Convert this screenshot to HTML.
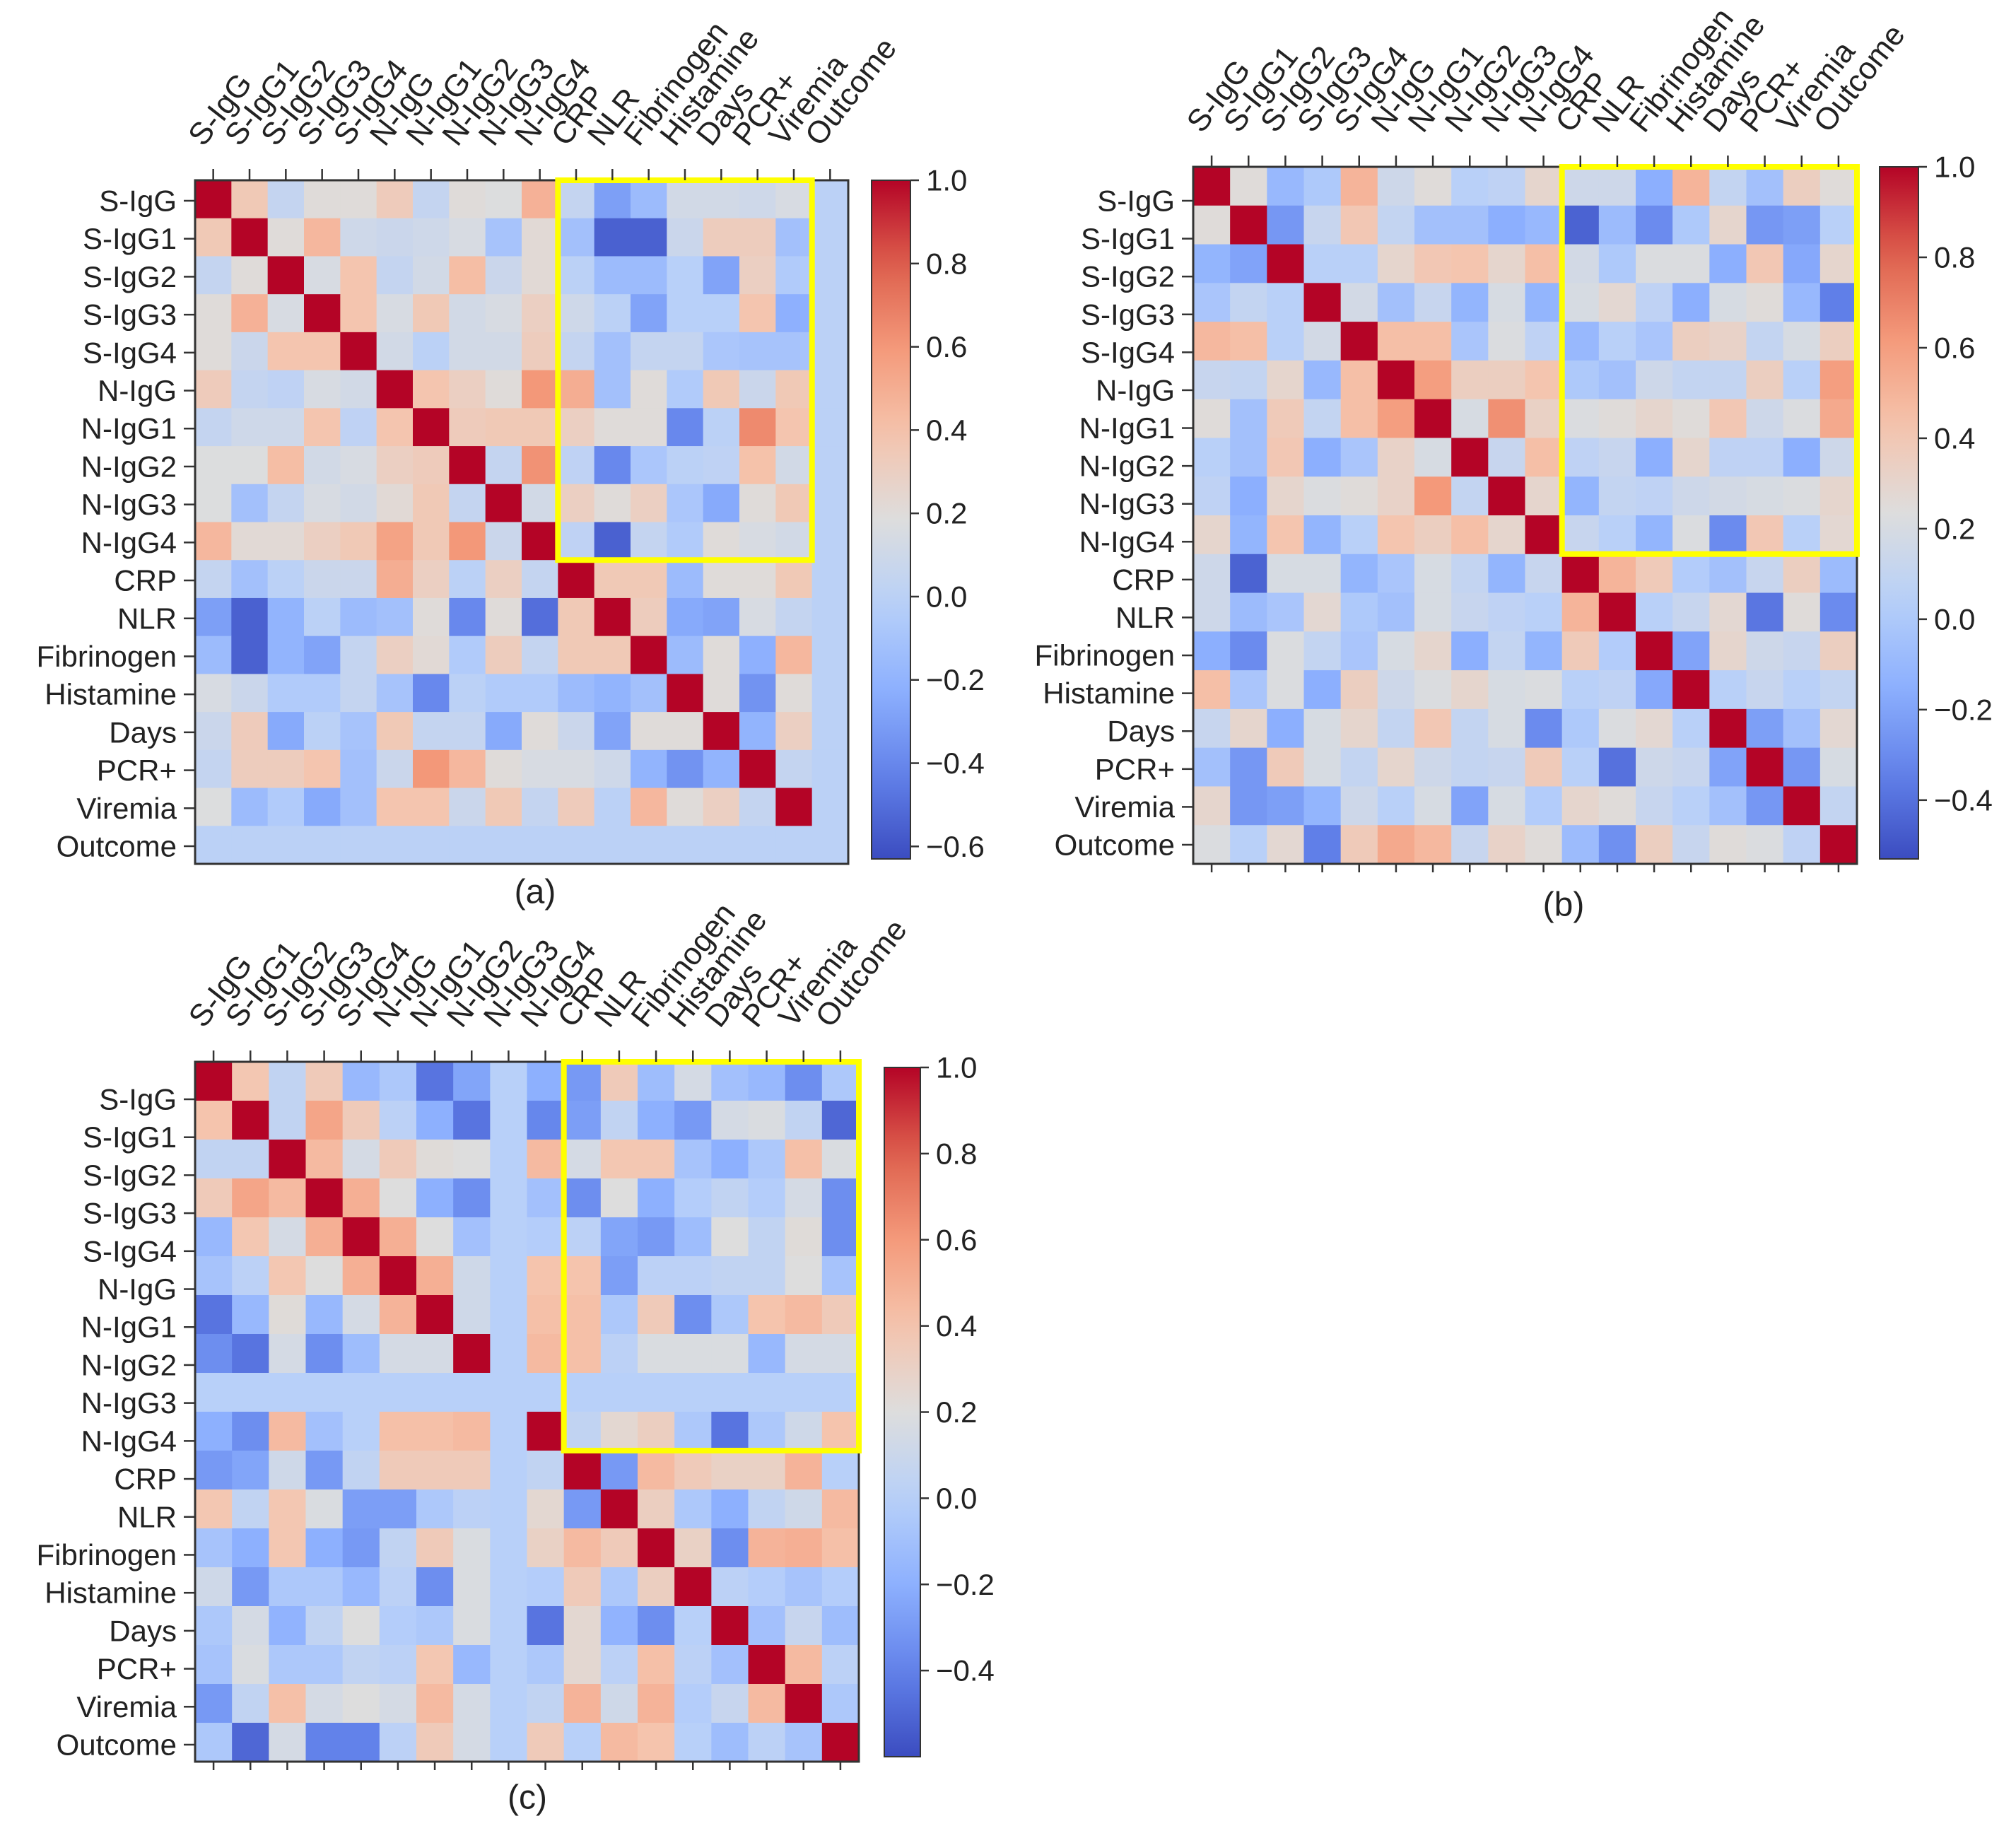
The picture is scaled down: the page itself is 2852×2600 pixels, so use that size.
<!DOCTYPE html>
<html>
<head>
<meta charset="utf-8">
<style>
  html, body { margin: 0; padding: 0; background: #ffffff; }
  svg { display: block; }
  text { font-family: "Liberation Sans", "DejaVu Sans", sans-serif; fill: #222; }
</style>
</head>
<body>
<svg id="fig" xmlns="http://www.w3.org/2000/svg" width="2852" height="2600" viewBox="0 0 2852 2600">
  <rect x="0" y="0" width="2852" height="2600" fill="#ffffff"></rect>
</svg>
<script>
// ---------- data ----------
const variables = ["S-IgG","S-IgG1","S-IgG2","S-IgG3","S-IgG4","N-IgG","N-IgG1","N-IgG2","N-IgG3","N-IgG4","CRP","NLR","Fibrinogen","Histamine","Days","PCR+","Viremia","Outcome"];

const matA = [
 [1,0.35,0.05,0.2,0.2,0.33,0.05,0.2,0.18,0.48,0.05,-0.3,-0.15,0.12,0.12,0.1,0.15,0],
 [0.35,1,0.2,0.45,0.1,0.08,0.1,0.15,-0.1,0.22,-0.12,-0.55,-0.55,0.08,0.32,0.32,-0.12,0],
 [0.05,0.2,1,0.15,0.38,0.05,0.12,0.42,0.08,0.22,0,-0.15,-0.15,-0.02,-0.28,0.3,-0.05,0],
 [0.2,0.48,0.15,1,0.38,0.15,0.35,0.12,0.15,0.3,0.1,0,-0.28,-0.02,-0.02,0.38,-0.22,0],
 [0.2,0.08,0.38,0.38,1,0.12,0,0.12,0.12,0.32,0.05,-0.12,0.05,0.05,-0.08,-0.1,-0.1,0],
 [0.33,0.05,0.02,0.15,0.12,1,0.38,0.3,0.2,0.6,0.5,-0.12,0.2,-0.05,0.35,0.08,0.35,0],
 [0.05,0.1,0.1,0.38,0.02,0.38,1,0.33,0.35,0.35,0.3,0.2,0.2,-0.4,0,0.65,0.38,0],
 [0.18,0.18,0.42,0.12,0.15,0.3,0.33,1,0.05,0.62,0.02,-0.4,-0.08,0,0.02,0.4,0.12,0],
 [0.18,-0.12,0.05,0.15,0.12,0.22,0.35,0.05,1,0.12,0.3,0.2,0.3,-0.08,-0.25,0.2,0.35,0],
 [0.45,0.22,0.22,0.3,0.35,0.55,0.35,0.6,0.08,1,0.02,-0.55,0.05,-0.05,0.2,0.15,0.12,0],
 [0.05,-0.12,0,0.08,0.08,0.5,0.3,0,0.3,0.05,1,0.35,0.35,-0.15,0.2,0.2,0.35,0],
 [-0.3,-0.55,-0.2,0,-0.15,-0.12,0.2,-0.4,0.2,-0.5,0.35,1,0.32,-0.25,-0.28,0.15,0.05,0],
 [-0.15,-0.55,-0.2,-0.28,0.05,0.3,0.22,-0.05,0.32,0.05,0.35,0.35,1,-0.15,0.2,-0.22,0.45,0],
 [0.15,0.08,-0.05,-0.05,0.05,-0.1,-0.4,0,-0.05,-0.05,-0.15,-0.2,-0.12,1,0.2,-0.35,0.2,0],
 [0.08,0.33,-0.25,0,-0.1,0.35,0.05,0.05,-0.25,0.2,0.08,-0.28,0.2,0.2,1,-0.2,0.3,0],
 [0.05,0.32,0.32,0.38,-0.12,0.08,0.6,0.45,0.2,0.15,0.15,0.1,-0.2,-0.35,-0.2,1,0.05,0],
 [0.18,-0.15,-0.05,-0.25,-0.12,0.38,0.38,0.08,0.35,0.05,0.33,0,0.45,0.2,0.3,0.05,1,0],
 [0,0,0,0,0,0,0,0,0,0,0,0,0,0,0,0,0,0]
];

const matB = [
 [1,0.25,-0.1,0,0.5,0.15,0.25,0.05,0.08,0.3,0.15,0.15,-0.15,0.5,0.1,-0.05,0.35,0.25],
 [0.25,1,-0.25,0.12,0.4,0.1,-0.05,-0.05,-0.15,-0.1,-0.45,-0.08,-0.3,0,0.3,-0.25,-0.22,0.05],
 [-0.12,-0.2,1,0.05,0.05,0.3,0.4,0.42,0.3,0.45,0.18,0,0.22,0.22,-0.15,0.4,-0.18,0.3],
 [-0.02,0.1,0.05,1,0.18,-0.05,0.12,-0.12,0.2,-0.12,0.2,0.28,0.08,-0.15,0.2,0.25,-0.1,-0.35],
 [0.48,0.45,0.05,0.18,1,0.45,0.45,-0.02,0.22,0.08,-0.1,0.05,-0.02,0.35,0.32,0.1,0.2,0.35],
 [0.12,0.1,0.3,-0.1,0.45,1,0.6,0.35,0.35,0.42,0,-0.05,0.15,0.1,0.1,0.35,0.05,0.6],
 [0.25,-0.05,0.38,0.1,0.45,0.6,1,0.2,0.65,0.33,0.22,0.25,0.3,0.25,0.4,0.15,0.22,0.55],
 [0.05,-0.05,0.4,-0.15,-0.02,0.32,0.2,1,0.12,0.45,0.08,0.12,-0.15,0.3,0.08,0.08,-0.15,0.15],
 [0.08,-0.15,0.3,0.22,0.25,0.32,0.62,0.1,1,0.3,-0.12,0.1,0.08,0.15,0.18,0.2,0.22,0.3],
 [0.3,-0.12,0.42,-0.12,0.05,0.42,0.35,0.45,0.3,1,0.12,0.05,-0.12,0.22,-0.3,0.4,0.05,0.28],
 [0.15,-0.45,0.2,0.2,-0.12,-0.02,0.2,0.1,-0.12,0.12,1,0.5,0.38,0.02,-0.05,0.12,0.35,-0.08],
 [0.15,-0.08,-0.02,0.28,0,-0.05,0.2,0.12,0.08,0.05,0.5,1,0.05,0.12,0.28,-0.38,0.25,-0.3],
 [-0.15,-0.3,0.22,0.1,-0.02,0.2,0.3,-0.15,0.1,-0.12,0.38,0.02,1,-0.2,0.3,0.15,0.12,0.35],
 [0.45,-0.02,0.22,-0.15,0.35,0.15,0.22,0.3,0.2,0.22,0.05,0.08,-0.18,1,0.05,0.12,0.05,0.1],
 [0.12,0.3,-0.15,0.2,0.3,0.1,0.4,0.1,0.2,-0.3,0,0.22,0.28,0.05,1,-0.22,-0.05,0.28],
 [-0.05,-0.25,0.38,0.2,0.1,0.3,0.15,0.1,0.12,0.38,0.05,-0.4,0.15,0.12,-0.2,1,-0.25,0.2],
 [0.3,-0.25,-0.22,-0.12,0.15,0.05,0.2,-0.2,0.2,0.02,0.3,0.25,0.12,0.05,-0.05,-0.25,1,0.1],
 [0.22,0.05,0.28,-0.35,0.38,0.55,0.48,0.12,0.32,0.25,-0.08,-0.28,0.35,0.12,0.25,0.22,0.08,1]
];

const matC = [
 [1,0.38,0.05,0.35,-0.15,-0.05,-0.45,-0.25,0,-0.2,-0.3,0.35,-0.12,0.15,-0.1,-0.15,-0.35,-0.05],
 [0.4,1,0.05,0.55,0.35,0.02,-0.2,-0.45,0,-0.38,-0.28,0.05,-0.2,-0.3,0.15,0.18,0.05,-0.5],
 [0.05,0.05,1,0.45,0.15,0.35,0.22,0.2,0,0.45,0.15,0.38,0.38,-0.08,-0.2,-0.05,0.42,0.18],
 [0.35,0.55,0.45,1,0.5,0.2,-0.2,-0.35,0,-0.1,-0.35,0.2,-0.2,-0.02,0.05,-0.02,0.15,-0.35],
 [-0.15,0.38,0.15,0.5,1,0.5,0.2,-0.1,0,-0.02,0.02,-0.25,-0.3,-0.12,0.2,0.05,0.22,-0.35],
 [-0.08,0.02,0.38,0.2,0.5,1,0.5,0.12,0,0.4,0.4,-0.28,0.02,0.02,0.05,0.05,0.2,-0.08],
 [-0.45,-0.15,0.22,-0.15,0.15,0.48,1,0.12,0,0.42,0.42,-0.05,0.35,-0.35,-0.05,0.4,0.45,0.35],
 [-0.35,-0.45,0.15,-0.35,-0.12,0.15,0.15,1,0,0.45,0.42,0.02,0.18,0.18,0.18,-0.15,0.15,0.15],
 [0,0,0,0,0,0,0,0,0,0,0,0,0,0,0,0,0,0],
 [-0.2,-0.35,0.45,-0.1,0,0.42,0.42,0.45,0,1,0.05,0.25,0.32,-0.05,-0.45,-0.05,0.12,0.4],
 [-0.3,-0.25,0.12,-0.3,0.05,0.35,0.35,0.35,0,0.05,1,-0.3,0.45,0.35,0.3,0.3,0.48,0],
 [0.38,0.05,0.38,0.18,-0.28,-0.28,-0.05,0.02,0,0.25,-0.3,1,0.32,-0.05,-0.2,0.05,0.12,0.45],
 [-0.08,-0.2,0.38,-0.2,-0.3,0.05,0.35,0.18,0,0.3,0.45,0.35,1,0.3,-0.35,0.48,0.5,0.42],
 [0.12,-0.3,-0.05,-0.05,-0.15,0.02,-0.35,0.18,0,-0.02,0.35,-0.05,0.32,1,0.02,-0.02,-0.08,-0.02],
 [-0.05,0.15,-0.18,0.05,0.2,-0.02,-0.05,0.18,0,-0.45,0.25,-0.18,-0.35,0,1,-0.1,0.08,-0.12],
 [-0.08,0.18,-0.05,-0.05,0.05,0.02,0.38,-0.15,0,-0.05,0.25,0.02,0.42,0.02,-0.1,1,0.45,0.02],
 [-0.3,0.05,0.42,0.15,0.2,0.15,0.45,0.15,0,0.05,0.48,0.12,0.48,-0.02,0.08,0.45,1,-0.05],
 [-0.05,-0.5,0.15,-0.4,-0.4,0.02,0.35,0.15,0,0.35,0,0.45,0.4,0,-0.12,0.02,-0.08,1]
];

const rangeA = [-0.63, 1.0];
const rangeB = [-0.53, 1.0];
const rangeC = [-0.60, 1.0];
const cbTicksA = [1.0, 0.8, 0.6, 0.4, 0.2, 0.0, -0.2, -0.4, -0.6];
const cbTicksB = [1.0, 0.8, 0.6, 0.4, 0.2, 0.0, -0.2, -0.4];
const cbTicksC = [1.0, 0.8, 0.6, 0.4, 0.2, 0.0, -0.2, -0.4];
const highlightRows = [0, 9];
const highlightColsA = [10, 16];
const highlightColsBC = [10, 17];

// ---------- colormap (coolwarm) ----------
const CM = [[59,76,192],[98,130,234],[141,176,254],[184,208,249],[221,221,221],[245,196,173],[244,154,123],[222,96,77],[180,4,38]];
function cmap(t){
  t = Math.max(0, Math.min(1, t));
  const p = t*(CM.length-1), i = Math.min(CM.length-2, Math.floor(p)), f = p-i;
  const c = CM[i].map((v,k)=>Math.round(v+(CM[i+1][k]-v)*f));
  return "rgb("+c.join(",")+")";
}

const NS = "http://www.w3.org/2000/svg";
const svg = document.getElementById("fig");
function mk(tag, attrs, parent){
  const e = document.createElementNS(NS, tag);
  for (const k in attrs) e.setAttribute(k, attrs[k]);
  (parent||svg).appendChild(e);
  return e;
}
function fmt(v){ return (v < 0 ? "\u2212" : "") + Math.abs(v).toFixed(1); }

let gradId = 0;
function panel(p){
  const g = mk("g", {});
  
  
  const n = variables.length;
  const cw = (p.x1 - p.x0)/n, ch = (p.y1 - p.y0)/n;
  const xS = j => p.x0 + j*cw;
  const yS = i => p.y0 + i*ch;
  const cS = v => (v - p.range[0])/(p.range[1]-p.range[0]);
  for (let i=0;i<n;i++){
    for (let j=0;j<n;j++){
      const r = mk("rect", {x:xS(j), y:yS(i), width:cw+0.6, height:ch+0.6, fill:cmap(cS(p.mat[i][j]))}, g);
      
      
    }
  }
  const fr = mk("rect", {x:p.x0, y:p.y0, width:p.x1-p.x0, height:p.y1-p.y0, fill:"none", stroke:"#333", "stroke-width":3}, g);
  
  
  const hb = mk("rect", {x:xS(p.hc[0]), y:yS(highlightRows[0]), width:xS(p.hc[1]+1)-xS(p.hc[0]), height:yS(highlightRows[1]+1)-yS(highlightRows[0]), fill:"none", stroke:"#ffff00", "stroke-width":8}, g);
  
  
  for (let i=0;i<n;i++){
    const yy = p.ly0 + (p.ly1 - p.ly0)*i/(n-1);
    mk("line", {x1:p.x0-16, x2:p.x0, y1:yy, y2:yy, stroke:"#333", "stroke-width":2.5}, g);
    const t = mk("text", {x:p.x0-26, y:yy, "text-anchor":"end", "dominant-baseline":"central", "font-size":42}, g);
    t.textContent = variables[i];
    
    
  }
  for (let j=0;j<n;j++){
    const xx = xS(j) + cw/2;
    mk("line", {x1:xx, x2:xx, y1:p.y0-16, y2:p.y0, stroke:"#333", "stroke-width":2.5}, g);
    if (p.bottomTicks) mk("line", {x1:xx, x2:xx, y1:p.y1, y2:p.y1+12, stroke:"#333", "stroke-width":2.5}, g);
    const ax = xx - 14, ay = p.y0 - 46;
    const t = mk("text", {x:ax, y:ay, "text-anchor":"start", "font-size":44, transform:"rotate(-52 "+ax+" "+ay+")"}, g);
    t.textContent = variables[j];
    
    
  }
  const id = "grad" + (gradId++);
  const defs = mk("defs", {}, g);
  const lg = mk("linearGradient", {id:id, x1:0, y1:1, x2:0, y2:0}, defs);
  for (let k=0;k<=20;k++) mk("stop", {offset:(k/20), "stop-color":cmap(k/20)}, lg);
  const cb = p.cb;
  const cbr = mk("rect", {x:cb[0], y:cb[1], width:cb[2]-cb[0], height:cb[3]-cb[1], fill:"url(#"+id+")", stroke:"#333", "stroke-width":2}, g);
  
  
  for (const v of p.ticks){
    const yy = cb[3] - cS(v)*(cb[3]-cb[1]);
    mk("line", {x1:cb[2], x2:cb[2]+12, y1:yy, y2:yy, stroke:"#333", "stroke-width":2.5}, g);
    const t = mk("text", {x:cb[2]+22, y:yy, "dominant-baseline":"central", "font-size":42}, g);
    t.textContent = fmt(v);
    
    
  }
  const cap = mk("text", {x:p.cap[0], y:p.cap[1], "text-anchor":"middle", "dominant-baseline":"central", "font-size":48}, g);
  cap.textContent = "(" + p.key + ")";
  
  
}

panel({key:"a", mat:matA, range:rangeA, ticks:cbTicksA, hc:highlightColsA,
  x0:276, x1:1200, y0:255, y1:1222, ly0:284, ly1:1197,
  cb:[1233,255,1288,1215], cap:[757,1262], bottomTicks:false});
panel({key:"b", mat:matB, range:rangeB, ticks:cbTicksB, hc:highlightColsBC,
  x0:1688, x1:2627, y0:236, y1:1222, ly0:284, ly1:1195,
  cb:[2659,236,2714,1215], cap:[2212,1280], bottomTicks:true});
panel({key:"c", mat:matC, range:rangeC, ticks:cbTicksC, hc:highlightColsBC,
  x0:276, x1:1215, y0:1502, y1:2492, ly0:1555, ly1:2468,
  cb:[1251,1510,1302,2485], cap:[746,2543], bottomTicks:true});
</script>
</body>
</html>
